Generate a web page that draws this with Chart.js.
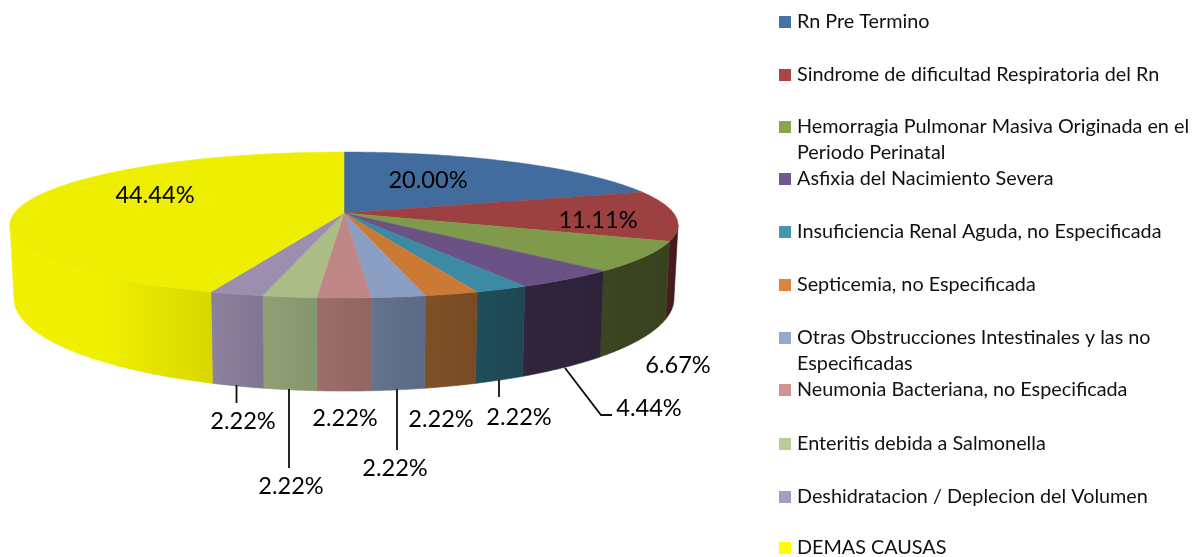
<!DOCTYPE html>
<html>
<head>
<meta charset="utf-8">
<script src="https://cdn.jsdelivr.net/npm/chart.js@4"></script>
<style>html,body{margin:0;padding:0;background:#fff}canvas{display:block}</style>
</head>
<body>
<canvas id="c" width="1204" height="557"></canvas>
<script>
const categories = [
  'Rn Pre Termino',
  'Sindrome de dificultad Respiratoria del Rn',
  ['Hemorragia Pulmonar Masiva Originada en el', 'Periodo Perinatal'],
  'Asfixia del Nacimiento Severa',
  'Insuficiencia Renal Aguda, no Especificada',
  'Septicemia, no Especificada',
  ['Otras Obstrucciones Intestinales y las no', 'Especificadas'],
  'Neumonia Bacteriana, no Especificada',
  'Enteritis debida a Salmonella',
  'Deshidratacion / Deplecion del Volumen',
  'DEMAS CAUSAS'
];
const values = [20.00, 11.11, 6.67, 4.44, 2.22, 2.22, 2.22, 2.22, 2.22, 2.22, 44.44];
const topColors = ['#426C9E','#9C4041','#7F9A4A','#6A5284','#3D8AA4','#CB7A36','#8A9FC2','#BE8684','#ABBC87','#9B8EAE','#EEEE00'];
const legendColors = ['#4572A7','#AA4643','#89A54E','#71588F','#4198AF','#DB843D','#93A9CF','#D19392','#B9CD96','#A99BBD','#FFFF00'];
const wallLeft = ['#2E4C70','#4A1C1E','#3B4520','#30243E','#214E5C','#7F5026','#64748E','#9C6E6A','#929F75','#8D829E','#F0F000'];
const wallRight = ['#2E4C70','#401A1C','#39421F','#2C2339','#1F4653','#784B22','#5A6A84','#8F6662','#84966C','#817691','#D8D800'];
const labelCenters = [[428,180],[598,220],[678,365],[649,408],[519,417],[441,419],[395,468],[345,418],[291,486],[243,421],[155,195]];
const leaderLines = [
  [[565,368],[601,415],[612,415]],
  [[499,380],[499,397]],
  [[397,389],[397,450]],
  [[289,389],[289,468]],
  [[236.5,385],[236.5,403]]
];
const legendRows = [22,75,127,179,232,285,338,390,444,497,548];

// perspective projection of the pie disk
const CX = 344, K = 0.164;
const face = {y0:213, A:71,  B:329.5};
const base = {y0:283.4, A:90, B:325.5};
const FRONT_LO = Math.asin(K), FRONT_HI = Math.PI - Math.asin(K);
function proj(p, a){
  const u = Math.cos(a), v = Math.sin(a), d = 1 - K*v;
  return [CX + p.B*u/d, p.y0 + p.A*v/d];
}
function rim(ctx, p, a1, a2, start){
  const n = Math.max(2, Math.ceil(Math.abs(a2-a1)/0.01));
  for(let i=0;i<=n;i++){
    const q = proj(p, a1+(a2-a1)*i/n);
    if(i===0 && start) ctx.moveTo(q[0],q[1]); else ctx.lineTo(q[0],q[1]);
  }
}
const pie3d = {
  id:'pie3d',
  beforeDatasetsDraw(chart){
    const ctx = chart.ctx, arcs = chart.getDatasetMeta(0).data;
    ctx.save();
    ctx.lineJoin = 'round';
    // walls: only the front-facing part of each slice's rim
    arcs.forEach((arc,i)=>{
      const s = Math.max(arc.startAngle, FRONT_LO), e = Math.min(arc.endAngle, FRONT_HI);
      if(e <= s) return;
      const xa = [proj(face,s)[0], proj(face,e)[0]];
      const g = ctx.createLinearGradient(Math.min(...xa),0,Math.max(...xa),0);
      g.addColorStop(0,wallLeft[i]);
      if(i===10){ g.addColorStop(0.45,wallLeft[i]); }
      g.addColorStop(1,wallRight[i]);
      ctx.beginPath();
      rim(ctx, face, s, e, true);
      rim(ctx, base, e, s, false);
      ctx.closePath();
      ctx.fillStyle = g; ctx.strokeStyle = g; ctx.lineWidth = 0.6;
      ctx.fill(); ctx.stroke();
    });
    // top face
    arcs.forEach((arc,i)=>{
      ctx.beginPath();
      ctx.moveTo(CX, face.y0);
      rim(ctx, face, arc.startAngle, arc.endAngle, false);
      ctx.closePath();
      ctx.fillStyle = topColors[i]; ctx.strokeStyle = topColors[i]; ctx.lineWidth = 0.5;
      ctx.fill(); ctx.stroke();
    });
    ctx.restore();
    return false;
  },
  afterDraw(chart){
    const ctx = chart.ctx;
    ctx.save();
    ctx.strokeStyle = '#0d0d0d'; ctx.lineWidth = 1.8;
    leaderLines.forEach(l=>{
      ctx.beginPath();
      l.forEach((p,i)=> i ? ctx.lineTo(p[0],p[1]) : ctx.moveTo(p[0],p[1]));
      ctx.stroke();
    });
    ctx.fillStyle = '#000'; ctx.textAlign='center'; ctx.textBaseline='middle';
    ctx.font = '23.6px Lato, "Open Sans", sans-serif';
    values.forEach((v,i)=> ctx.fillText(v.toFixed(2)+'%', labelCenters[i][0], labelCenters[i][1]));
    // legend
    ctx.textAlign='left';
    ctx.font = '19.8px Lato, "Open Sans", sans-serif';
    categories.forEach((c,i)=>{
      const y = legendRows[i];
      ctx.fillStyle = legendColors[i];
      ctx.fillRect(779, y-6, 12, 12);
      ctx.fillStyle = '#111';
      const lines = Array.isArray(c) ? c : [c];
      lines.forEach((t,j)=> ctx.fillText(t, 797, y + j*26));
    });
    ctx.restore();
  }
};
new Chart(document.getElementById('c'), {
  type:'pie',
  data:{labels:categories, datasets:[{data:values, backgroundColor:topColors, borderWidth:0}]},
  options:{
    responsive:false, animation:false,
    plugins:{legend:{display:false}, tooltip:{enabled:false}}
  },
  plugins:[pie3d]
});
</script>
</body>
</html>
